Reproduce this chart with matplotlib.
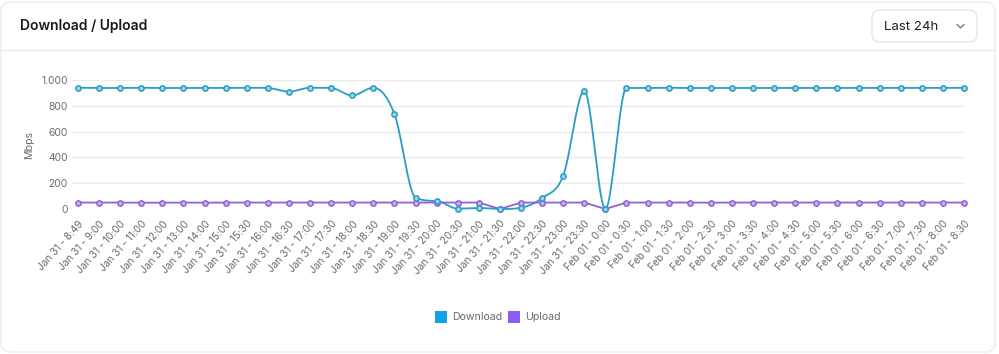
"""Download / Upload throughput card, last 24h."""
import numpy as np
import matplotlib
matplotlib.use("Agg")
import matplotlib.pyplot as plt
import matplotlib.patches as patches
from matplotlib.ticker import FuncFormatter

plt.rcParams["font.family"] = ["Inter", "DejaVu Sans"]

# --- data
TIMES = (
    ["Jan 31 - 8:49", "Jan 31 - 9:00", "Jan 31 - 10:00", "Jan 31 - 11:00",
     "Jan 31 - 12:00", "Jan 31 - 13:00", "Jan 31 - 14:00", "Jan 31 - 15:00"]
    + [f"Jan 31 - {h}:{m}" for h in range(15, 24) for m in ("00", "30")][1:]
    + [f"Feb 01 - {h}:{m}" for h in range(0, 9) for m in ("00", "30")]
)
DOWNLOAD = [940, 938, 938, 940, 938, 938, 938, 938, 940, 938,
            910, 940, 938, 880, 940, 736, 88, 62, 3, 8,
            0, 10, 85, 258, 915, 0, 938, 938, 940, 938,
            938, 938, 938, 938, 938, 938, 938, 938, 938, 938,
            938, 938, 940]
UPLOAD = [50, 50, 50, 49, 49, 50, 49, 50, 50, 50,
          50, 50, 50, 50, 50, 50, 50, 50, 50, 50,
          0, 50, 50, 50, 50, 0, 50, 50, 50, 50,
          49, 50, 50, 50, 50, 50, 50, 50, 50, 50,
          50, 50, 50]
Y_TICKS = [0, 200, 400, 600, 800, 1000]

DL_LINE = "#2a9cc6"
DL_BOX = "#12a2e2"
UL_LINE = "#9160d6"
UL_BOX = "#8b5cf6"
GRID = "#ebebeb"
TXT = "#6b6b6b"

W, H = 999, 354


def monotone(x, y, n=30):
    """Fritsch-Carlson monotone cubic, like Chart.js cubicInterpolationMode."""
    x = np.asarray(x, float); y = np.asarray(y, float)
    d = np.diff(y) / np.diff(x)
    m = np.zeros_like(y)
    m[0], m[-1] = d[0], d[-1]
    for k in range(1, len(y) - 1):
        m[k] = 0.0 if d[k - 1] * d[k] <= 0 else (d[k - 1] + d[k]) / 2
    for k in range(len(d)):
        if d[k] == 0:
            m[k] = m[k + 1] = 0.0
            continue
        a, b = m[k] / d[k], m[k + 1] / d[k]
        s = a * a + b * b
        if s > 9:
            t = 3 / np.sqrt(s)
            m[k], m[k + 1] = t * a * d[k], t * b * d[k]
    xs, ys = [], []
    for k in range(len(d)):
        h = x[k + 1] - x[k]
        t = np.linspace(0, 1, n, endpoint=False)
        h00 = 2 * t**3 - 3 * t**2 + 1
        h10 = t**3 - 2 * t**2 + t
        h01 = -2 * t**3 + 3 * t**2
        h11 = t**3 - t**2
        xs.append(x[k] + t * h)
        ys.append(h00 * y[k] + h10 * h * m[k] + h01 * y[k + 1] + h11 * h * m[k + 1])
    xs.append([x[-1]]); ys.append([y[-1]])
    return np.concatenate(xs), np.concatenate(ys)


fig = plt.figure(figsize=(W / 100, H / 100), dpi=100)
fig.patch.set_facecolor("white")

# --- card chrome drawn in pixel coordinates
bg = fig.add_axes([0, 0, 1, 1])
bg.set_xlim(0, W); bg.set_ylim(H, 0); bg.axis("off")
bg.add_patch(patches.FancyBboxPatch((1, 2), 994, 350,
             boxstyle="round,pad=0,rounding_size=10",
             facecolor="white", edgecolor="#ececec", linewidth=1))
bg.plot([1, 995], [50, 50], color="#ececec", lw=1)
bg.text(20, 26, "Download / Upload", fontsize=10, fontweight="semibold",
        color="#1a1a1a", va="center", ha="left")
bg.add_patch(patches.FancyBboxPatch((872, 10), 105, 32,
             boxstyle="round,pad=0,rounding_size=8",
             facecolor="white", edgecolor="#e6e6e6", linewidth=1))
bg.text(884, 26.5, "Last 24h", fontsize=9.5, color="#1f1f1f", va="center", ha="left")
bg.plot([957, 960.5, 964], [24.5, 28, 24.5], color="#777777", lw=0.9)

# legend
for bx, col, lbl in [(435, DL_BOX, "Download"), (508, UL_BOX, "Upload")]:
    bg.add_patch(patches.Rectangle((bx, 311), 12, 12, facecolor=col, edgecolor="none"))
    bg.text(bx + 17, 317.5, lbl, fontsize=7.6, color=TXT, va="center", ha="left")

# --- chart
x = np.arange(len(TIMES))
x0, x1, ytop, ybot = 72, 964, 80, 209
ax = fig.add_axes([x0 / W, 1 - ybot / H, (x1 - x0) / W, (ybot - ytop) / H])
ax.set_facecolor("none")
ax.set_xlim(-6 / 21.095, len(TIMES) - 1)
ax.set_ylim(0, 1000)

sx, sy = monotone(x, DOWNLOAD)
ax.plot(sx, sy, color=DL_LINE, lw=1.3, clip_on=False, zorder=3)
ax.plot(x, DOWNLOAD, ls="none", marker="o", ms=3.8, mew=1.1,
        mec=DL_LINE, mfc="#9fd3e6", clip_on=False, zorder=4)
ax.plot(x, UPLOAD, color=UL_LINE, lw=1.3, marker="o", ms=3.8, mew=1.1,
        mec=UL_LINE, mfc="#c9b0ec", clip_on=False, zorder=3)

ax.set_yticks(Y_TICKS)
ax.yaxis.set_major_formatter(FuncFormatter(lambda v, _: f"{int(v):,}".replace(",", ".")))
ax.set_xticks(x)
ax.set_xticklabels(TIMES, rotation=48, ha="right", rotation_mode="anchor")
ax.tick_params(axis="x", length=0, pad=7, labelsize=7.3, colors=TXT)
ax.tick_params(axis="y", length=0, pad=3, labelsize=7.4, colors=TXT)
ax.grid(axis="y", color=GRID, lw=1)
ax.set_axisbelow(True)
for s in ax.spines.values():
    s.set_visible(False)
ax.set_ylabel("Mbps", fontsize=7.6, color=TXT, labelpad=5)

fig.savefig("out.png", dpi=100, facecolor="white")
